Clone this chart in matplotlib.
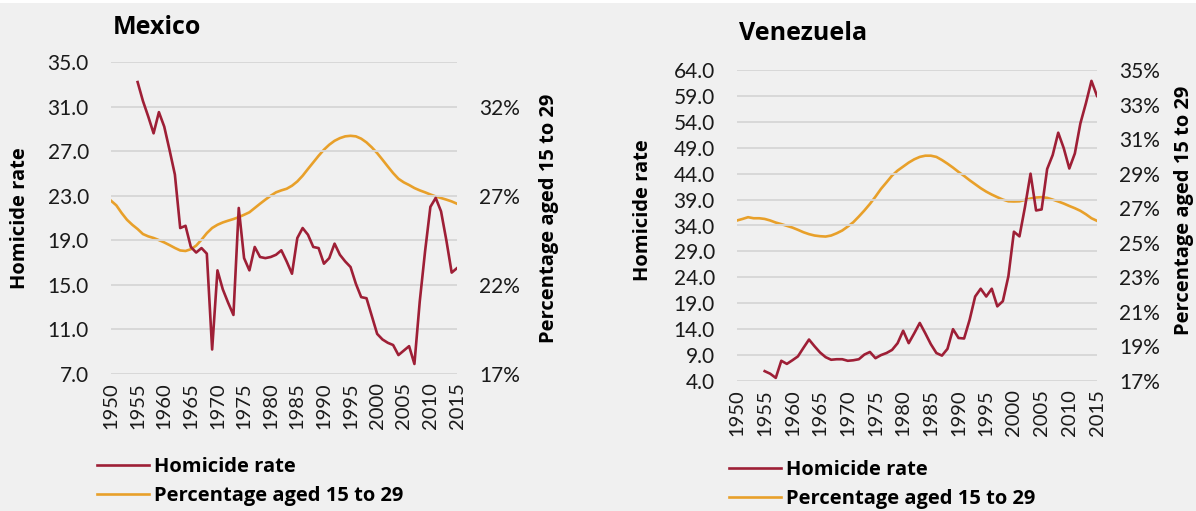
import matplotlib
matplotlib.use('Agg')
import matplotlib.pyplot as plt
from matplotlib.ticker import FuncFormatter
from matplotlib.patches import Rectangle

plt.rcParams['font.family'] = ['Lato', 'DejaVu Sans']
BOLD = ['Open Sans', 'DejaVu Sans']

years = list(range(1950, 2016))
hom_years = list(range(1955, 2016))
xticks = list(range(1950, 2016, 5))

# Mexico
mex_homicide = [33.2, 31.5, 30.1, 28.6, 30.5, 29.2, 27.1, 24.9, 20.1, 20.3,
                18.4, 17.9, 18.3, 17.8, 9.2, 16.3, 14.6, 13.4, 12.3, 21.9,
                17.4, 16.3, 18.4, 17.5, 17.4, 17.5, 17.7, 18.1, 17.1, 16.0,
                19.2, 20.1, 19.5, 18.4, 18.3, 16.9, 17.4, 18.7, 17.7, 17.1,
                16.6, 15.1, 13.9, 13.8, 12.2, 10.6, 10.1, 9.8, 9.6, 8.7,
                9.1, 9.5, 7.9, 13.5, 18.0, 22.0, 22.8, 21.6, 19.0, 16.1,
                16.5]
mex_young = [26.72, 26.46, 26.03, 25.65, 25.37, 25.13, 24.85, 24.72, 24.63, 24.51,
             24.38, 24.23, 24.07, 23.93, 23.90, 24.00, 24.20, 24.53, 24.90, 25.19,
             25.37, 25.50, 25.60, 25.69, 25.80, 25.93, 26.07, 26.31, 26.55, 26.78,
             27.00, 27.19, 27.30, 27.39, 27.56, 27.80, 28.12, 28.50, 28.87, 29.24,
             29.58, 29.86, 30.08, 30.23, 30.33, 30.36, 30.33, 30.20, 29.99, 29.71,
             29.39, 29.02, 28.64, 28.27, 27.95, 27.75, 27.60, 27.43, 27.30, 27.19,
             27.07, 26.96, 26.87, 26.78, 26.68, 26.55]
mex_left_ticks = [7.0, 11.0, 15.0, 19.0, 23.0, 27.0, 31.0, 35.0]
mex_right_ticks = [17, 22, 27, 32]

# Venezuela
ven_homicide = [5.9, 5.4, 4.6, 7.9, 7.3, 8.0, 8.75, 10.4, 12.0, 10.7,
                9.5, 8.6, 8.1, 8.2, 8.2, 7.9, 8.0, 8.2, 9.1, 9.6,
                8.4, 9.0, 9.4, 10.0, 11.3, 13.7, 11.3, 13.2, 15.2, 13.2,
                11.1, 9.4, 8.9, 10.2, 14.0, 12.3, 12.2, 15.8, 20.3, 21.8,
                20.3, 21.8, 18.4, 19.4, 24.2, 32.8, 31.9, 37.6, 44.0, 36.9,
                37.1, 44.9, 47.6, 51.9, 48.9, 45.0, 47.9, 53.7, 57.6, 61.9,
                59.0]
ven_young = [26.29, 26.38, 26.48, 26.42, 26.42, 26.38, 26.29, 26.17, 26.08, 25.98,
             25.88, 25.75, 25.61, 25.50, 25.42, 25.38, 25.36, 25.42, 25.55, 25.71,
             25.94, 26.19, 26.52, 26.87, 27.25, 27.67, 28.12, 28.50, 28.89, 29.18,
             29.41, 29.64, 29.83, 29.97, 30.04, 30.04, 29.97, 29.79, 29.58, 29.35,
             29.10, 28.87, 28.62, 28.39, 28.16, 27.96, 27.79, 27.64, 27.50, 27.40,
             27.39, 27.40, 27.48, 27.56, 27.62, 27.64, 27.60, 27.50, 27.39, 27.27,
             27.13, 27.00, 26.85, 26.65, 26.42, 26.27]
ven_left_ticks = [4.0, 9.0, 14.0, 19.0, 24.0, 29.0, 34.0, 39.0, 44.0, 49.0, 54.0, 59.0, 64.0]
ven_right_ticks = [17, 19, 21, 23, 25, 27, 29, 31, 33, 35]

RED = '#9e1f36'
ORANGE = '#e8a02a'
BG = '#f0f0f0'
W, H = 1196, 511

fig = plt.figure(figsize=(W / 100, H / 100), dpi=100, facecolor=BG)
fig.patches.append(Rectangle((0, 1 - 3 / H), 1, 3 / H, transform=fig.transFigure,
                             facecolor='white', edgecolor='none'))


def px(x, y):
    return x / W, 1 - y / H


def panel(rect, title, title_xy, hom, young, ticks_l, lim_r, ticks_r,
          ylab_x, y2lab_x, lab_y, leg_xy):
    ax = fig.add_axes(rect, facecolor=BG)
    ax2 = ax.twinx()
    ax.set_zorder(ax2.get_zorder() + 1)
    ax.patch.set_visible(False)

    l1, = ax.plot(hom_years, hom, color=RED, lw=1.9, label='Homicide rate')
    l2, = ax2.plot(years, young, color=ORANGE, lw=1.9, label='Percentage aged 15 to 29')

    ax.set_xlim(1950, 2015)
    ax.set_ylim(ticks_l[0], ticks_l[-1])
    ax.set_yticks(ticks_l)
    ax.yaxis.set_major_formatter(FuncFormatter(lambda v, p: '%.1f' % v))
    ax.set_xticks(xticks)
    ax.set_xticklabels([str(y) for y in xticks], rotation=90)
    ax.grid(axis='y', color='#d6d6d6', lw=1.3)
    ax.set_axisbelow(True)

    ax2.set_ylim(*lim_r)
    ax2.set_yticks(ticks_r)
    ax2.yaxis.set_major_formatter(FuncFormatter(lambda v, p: '%d%%' % round(v)))

    for a in (ax, ax2):
        for s in a.spines.values():
            s.set_visible(False)
        a.tick_params(length=0, labelsize=15, colors='#1a1a1a')
    ax.tick_params(axis='y', pad=16)
    ax.tick_params(axis='x', pad=6, labelsize=14.5)
    ax2.tick_params(axis='y', pad=16)

    fig.text(*px(*title_xy), title, fontsize=18, fontweight='bold', family=BOLD,
             va='center', ha='left')
    fig.text(*px(ylab_x, lab_y), 'Homicide rate', rotation=90, fontsize=14.5,
             fontweight='bold', family=BOLD, ha='center', va='center')
    fig.text(*px(y2lab_x, lab_y), 'Percentage aged 15 to 29', rotation=90, fontsize=14.5,
             fontweight='bold', family=BOLD, ha='center', va='center')

    fig.legend(handles=[l1, l2], loc='upper left', bbox_to_anchor=px(*leg_xy),
               frameon=False, prop={'weight': 'bold', 'size': 14.5, 'family': BOLD},
               handlelength=2.6, handletextpad=0.25, labelspacing=0.45,
               borderpad=0, borderaxespad=0)
    return ax, ax2


panel([111 / W, 1 - 374 / H, 346 / W, 312 / H], 'Mexico', (113, 27),
      mex_homicide, mex_young, mex_left_ticks, (17, 34.5), mex_right_ticks,
      20, 549, 218, (97, 457))

panel([737 / W, 1 - 381 / H, 360 / W, 311 / H], 'Venezuela', (739, 34),
      ven_homicide, ven_young, ven_left_ticks, (17, 35), ven_right_ticks,
      643, 1184, 210, (729, 460))

fig.savefig('out.png', dpi=100, facecolor=BG)
